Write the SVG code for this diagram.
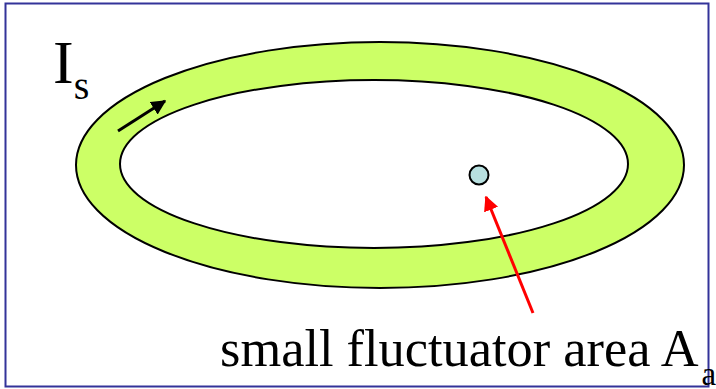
<svg xmlns="http://www.w3.org/2000/svg" width="716" height="389" viewBox="0 0 716 389">
<style>
.t{font-family:"Liberation Serif","Times New Roman",serif;fill:#000}
</style>
<defs>
<marker id="ab" viewBox="0 0 10 10" refX="9" refY="5" markerWidth="5" markerHeight="5" orient="auto" markerUnits="strokeWidth"><path d="M0,0 L10,5 L0,10 z" fill="#000"/></marker>
<marker id="ar" viewBox="0 0 10 10" refX="9" refY="5" markerWidth="5" markerHeight="5" orient="auto" markerUnits="strokeWidth"><path d="M0,0 L10,5 L0,10 z" fill="#ff0000"/></marker>
</defs>
<rect width="716" height="389" fill="#fff"/>
<rect x="5.5" y="3.5" width="703" height="383" fill="none" stroke="#333399" stroke-width="2"/>
<g id="ring">
<path fill="#ccff66" fill-rule="evenodd" stroke="#000" stroke-width="2" d="M76,165 A304,123 0 1,0 684,165 A304,123 0 1,0 76,165 Z M120,164 A254,84 0 1,1 628,164 A254,84 0 1,1 120,164 Z"/>
</g>
<g id="fluctuator">
<circle cx="479" cy="175" r="9.5" fill="#b8e0e0" stroke="#000" stroke-width="2"/>
</g>
<g id="connectors">
<line x1="118" y1="131" x2="165" y2="101" stroke="#000" stroke-width="3" marker-end="url(#ab)"/>
<line x1="533" y1="313" x2="486" y2="197" stroke="#ff0000" stroke-width="3" marker-end="url(#ar)"/>
</g>
<g id="labels">
<text class="t" x="53" y="83" font-size="62">I<tspan font-size="40" dy="16">s</tspan></text>
<text class="t" x="220" y="366" font-size="52.4">small fluctuator area A<tspan font-size="33" dx="3" dy="19">a</tspan></text>
</g>
</svg>
